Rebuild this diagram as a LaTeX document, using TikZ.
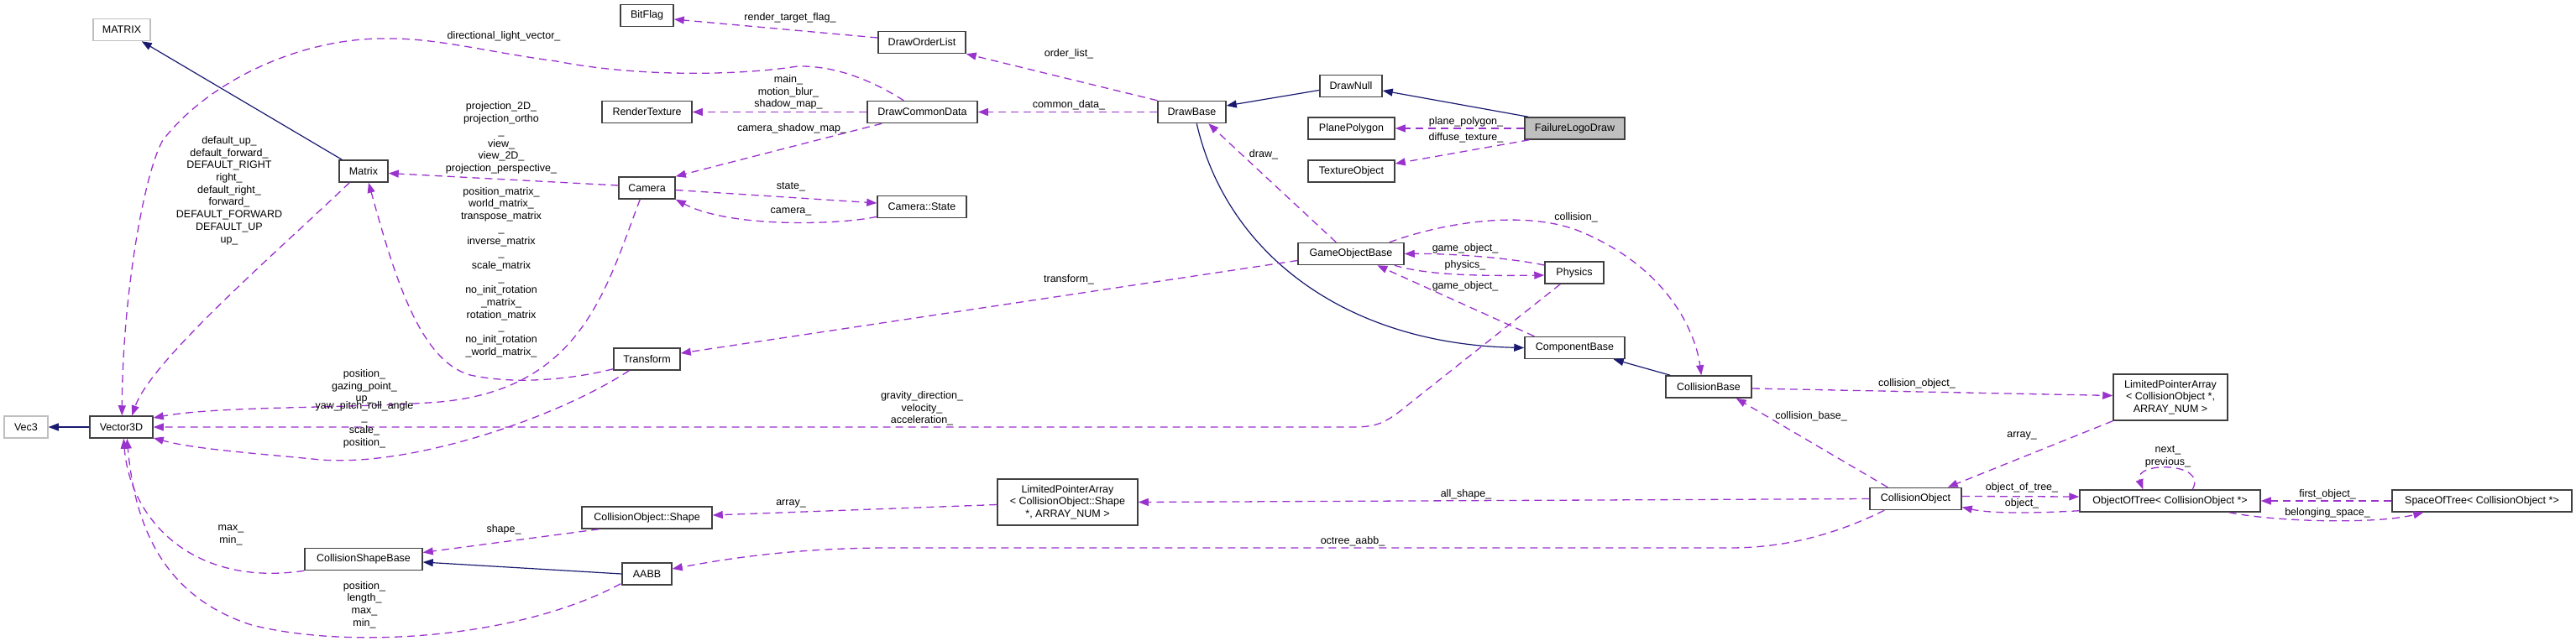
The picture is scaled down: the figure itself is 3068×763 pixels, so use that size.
\documentclass[tikz,border=0pt]{standalone}
\usepackage{fontspec}
\setmainfont{Liberation Sans}
\usepackage{tikz}
\usetikzlibrary{arrows.meta,calc}
\definecolor{Ink}{HTML}{404040}
\definecolor{Grey}{HTML}{BFBFBF}
\definecolor{Orchid}{HTML}{9A32CD}
\definecolor{Navy}{HTML}{191970}
\newcommand{\lblfont}{\fontsize{12.5}{14.7}\selectfont}
\tikzset{
  klass/.style={draw=Ink,line width=1.5pt,fill=white,minimum height=26pt,inner sep=2pt,font=\lblfont},
  klassext/.style={klass,draw=Grey},
  klassmain/.style={klass,fill=Grey},
  usage/.style={draw=Orchid,line width=1.3pt,dash pattern=on 9pt off 6pt,-{Triangle[length=12pt,width=9pt]}},
  inherit/.style={draw=Navy,line width=1.2pt,-{Triangle[length=12pt,width=9pt]}},
  note/.style={font=\lblfont,align=center,inner sep=0pt}
}

\begin{document}
\begin{tikzpicture}[x=1pt,y=-1pt]
  \useasboundingbox (0,0) rectangle (3068,763);
  % classes
  \node[klassext,minimum width=68pt] (MATRIX) at (145,35.5) {MATRIX};
  \node[klass,minimum width=63pt] (BitFlag) at (770.5,18.5) {BitFlag};
  \node[klass,minimum width=104pt] (DrawOrderList) at (1098,50.5) {DrawOrderList};
  \node[klass,minimum width=107pt] (RenderTexture) at (770.5,133.5) {RenderTexture};
  \node[klass,minimum width=131pt] (DrawCommonData) at (1098.5,133.5) {DrawCommonData};
  \node[klass,minimum width=81pt] (DrawBase) at (1419.5,133.5) {DrawBase};
  \node[klass,minimum width=74pt] (DrawNull) at (1609,102.5) {DrawNull};
  \node[klass,minimum width=103pt] (PlanePolygon) at (1609.5,153) {PlanePolygon};
  \node[klassmain,minimum width=119pt] (FailureLogoDraw) at (1875.5,153) {FailureLogoDraw};
  \node[klass,minimum width=103pt] (TextureObject) at (1609.5,204) {TextureObject};
  \node[klass,minimum width=58pt] (Matrix) at (433,204) {Matrix};
  \node[klass,minimum width=67pt] (Camera) at (770.5,224) {Camera};
  \node[klass,minimum width=106pt] (CameraState) at (1098,246.5) {Camera::State};
  \node[klass,minimum width=126pt] (GameObjectBase) at (1609,302.5) {GameObjectBase};
  \node[klass,minimum width=70pt] (Physics) at (1875,325) {Physics};
  \node[klass,minimum width=79pt] (Transform) at (770.5,428) {Transform};
  \node[klass,minimum width=119pt] (ComponentBase) at (1875.5,414.5) {ComponentBase};
  \node[klass,minimum width=102pt] (CollisionBase) at (2035,461) {CollisionBase};
  \node[klassext,minimum width=52pt] (Vec3) at (31,509) {Vec3};
  \node[klass,minimum width=75pt] (Vector3D) at (144.5,509) {Vector3D};
  \node[klass,minimum width=136pt,minimum height=55pt,align=center] (LPACO) at (2585,473.5) {LimitedPointerArray\\< CollisionObject *,\\ARRAY\_NUM >};
  \node[klass,minimum width=167pt,minimum height=55pt,align=center] (LPAShape) at (1271.5,598.5) {LimitedPointerArray\\< CollisionObject::Shape\\*, ARRAY\_NUM >};
  \node[klass,minimum width=140pt] (CollisionShapeBase) at (433,666.5) {CollisionShapeBase};
  \node[klass,minimum width=155pt] (CollShape) at (770.5,617) {CollisionObject::Shape};
  \node[klass,minimum width=59pt] (AABB) at (770.5,684) {AABB};
  \node[klass,minimum width=109pt] (CollisionObject) at (2281.5,594.5) {CollisionObject};
  \node[klass,minimum width=215pt] (ObjectOfTree) at (2584.5,597) {ObjectOfTree< CollisionObject *>};
  \node[klass,minimum width=214pt] (SpaceOfTree) at (2956,597) {SpaceOfTree< CollisionObject *>};

  % inheritance
  \draw[inherit] (Vector3D.west) -- (Vec3.east);
  \draw[inherit] ($(Matrix.north west)+(4,0)$) -- ($(MATRIX.south east)+(-11,0)$);
  \draw[inherit] ($(DrawNull.west)+(0,5)$) -- ($(DrawBase.east)+(0,-7.5)$);
  \draw[inherit] ($(FailureLogoDraw.north west)+(5,0)$) -- ($(DrawNull.east)+(0,5.5)$);
  \draw[inherit] ($(DrawBase.south west)+(47,0)$) .. controls (1460,300) and (1600,410) .. (ComponentBase.west);
  \draw[inherit] ($(CollisionBase.north west)+(6,0)$) -- ($(ComponentBase.south east)+(-14,0)$);
  \draw[inherit] (AABB.west) -- ($(CollisionShapeBase.east)+(0,3.5)$);

  % members
  \draw[usage] ($(DrawOrderList.west)+(0,-5.5)$) -- ($(BitFlag.east)+(0,4.5)$);
  \draw[usage] (DrawBase.north west) -- (DrawOrderList.south east);
  \draw[usage] (DrawBase.west) -- (DrawCommonData.east);
  \draw[usage] (DrawCommonData.west) -- (RenderTexture.east);
  \draw[usage] ($(DrawCommonData.south west)+(18,0)$) -- (Camera.north east);
  \draw[usage] ($(DrawCommonData.north west)+(44,0)$) .. controls (1045,100) and (1000,78) .. (950,79)
    .. controls (880,90) and (760,92) .. (663,73) .. controls (580,62) and (520,45) .. (459,46)
    .. controls (360,45) and (250,95) .. (194,167) .. controls (172,205) and (146,350) .. ($(Vector3D.north west)+(39,0)$);
  \draw[usage] ($(Camera.west)+(0,-3)$) -- ($(Matrix.east)+(0,2.5)$);
  \draw[usage] ($(Camera.east)+(0,2.5)$) -- ($(CameraState.west)+(0,-4.5)$);
  \draw[usage] ($(CameraState.south west)+(0,-2)$) .. controls (1000,268) and (870,272) .. (Camera.south east);
  \draw[usage] ($(Camera.south west)+(26,0)$) .. controls (720,350) and (690,470) .. (510,480)
    .. controls (400,487) and (260,484) .. ($(Vector3D.east)+(0,-11)$);
  \draw[usage] ($(Transform.south west)+(0,-2)$) .. controls (690,450) and (620,460) .. (560,447)
    .. controls (500,430) and (470,330) .. ($(Matrix.south)+(6,0)$);
  \draw[usage] ($(Transform.south west)+(19,0)$) .. controls (660,500) and (480,560) .. (372,547)
    .. controls (300,540) and (230,535) .. ($(Vector3D.east)+(0,13)$);
  \draw[usage] ($(Physics.south west)+(19,0)$) -- (1680,480) .. controls (1650,505) and (1640,509) .. (1610,509) -- (Vector3D.east);
  \draw[usage] ($(GameObjectBase.west)+(0,8)$) -- ($(Transform.east)+(0,-7)$);
  \draw[usage] ($(GameObjectBase.north west)+(46,0)$) -- ($(DrawBase.south west)+(61,0)$);
  \draw[usage] (FailureLogoDraw.west) -- (PlanePolygon.east);
  \draw[usage] ($(FailureLogoDraw.south west)+(6,0)$) -- ($(TextureObject.east)+(0,-9)$);
  \draw[usage] ($(Physics.west)+(0,-9)$) .. controls (1790,306) and (1720,302) .. (GameObjectBase.east);
  \draw[usage] ($(GameObjectBase.south east)+(-12,0)$) .. controls (1700,328) and (1760,329) .. ($(Physics.west)+(0,3)$);
  \draw[usage] ($(ComponentBase.north west)+(12,0)$) -- ($(GameObjectBase.south west)+(95,0)$);
  \draw[usage] ($(GameObjectBase.north east)+(-18,0)$) .. controls (1720,265) and (1815,250) .. (1880,275)
    .. controls (1990,320) and (2020,400) .. ($(CollisionBase.north west)+(43,0)$);
  \draw[usage] ($(CollisionBase.east)+(0,2)$) -- ($(LPACO.west)+(0,-2)$);
  \draw[usage] (LPACO.south west) -- ($(CollisionObject.north east)+(-17,0)$);
  \draw[usage] ($(CollisionObject.north west)+(22,0)$) -- ($(CollisionBase.south east)+(-19,0)$);
  \draw[usage] (CollisionObject.west) -- (LPAShape.east);
  \draw[usage] ($(LPAShape.west)+(0,3)$) -- ($(CollShape.east)+(0,-3)$);
  \draw[usage] ($(CollShape.south west)+(21,0)$) -- ($(CollisionShapeBase.east)+(0,-8)$);
  \draw[usage] ($(CollisionObject.south west)+(18,0)$) .. controls (2180,640) and (2120,653) .. (2060,653) -- (1060,653)
    .. controls (950,653) and (870,665) .. ($(AABB.east)+(0,-6)$);
  \draw[usage] ($(CollisionObject.east)+(0,-3)$) -- ($(ObjectOfTree.west)+(0,-5)$);
  \draw[usage] ($(ObjectOfTree.south west)+(0,-2)$) .. controls (2420,612) and (2370,612) .. ($(CollisionObject.east)+(0,10)$);
  \draw[usage] ($(ObjectOfTree.north west)+(135,0)$) .. controls (2630,550) and (2540,550) .. ($(ObjectOfTree.north west)+(76,0)$);
  \draw[usage] (SpaceOfTree.west) -- (ObjectOfTree.east);
  \draw[usage] ($(ObjectOfTree.south east)+(-38,0)$) .. controls (2710,622) and (2830,625) .. ($(SpaceOfTree.south west)+(38,0)$);
  \draw[usage] ($(Matrix.south west)+(13,0)$) .. controls (330,300) and (180,430) .. ($(Vector3D.north west)+(51,0)$);
  \draw[usage] (CollisionShapeBase.south west) .. controls (230,700) and (155,620) .. ($(Vector3D.south west)+(41,0)$);
  \draw[usage] ($(AABB.south west)+(-1,-2)$) .. controls (620,760) and (420,775) .. (300,745)
    .. controls (190,710) and (160,620) .. ($(Vector3D.south west)+(45,0)$);

  % member names
  \node[note] (lRenderTargetFlag) at (941,21) {render\_target\_flag\_};
  \node[note] (lOrderList) at (1273,64) {order\_list\_};
  \node[note] (lCommonData) at (1273,125) {common\_data\_};
  \node[note] (lMain) at (939,110) {main\_\\motion\_blur\_\\shadow\_map\_};
  \node[note] (lCameraShadowMap) at (943,153) {camera\_shadow\_map\_};
  \node[note] (lDirLight) at (600,43) {directional\_light\_vector\_};
  \node[note] (lProjection) at (597,164.5) {projection\_2D\_\\projection\_ortho\\\_\\view\_\\view\_2D\_\\projection\_perspective\_};
  \node[note] (lDefaults) at (273,227) {default\_up\_\\default\_forward\_\\DEFAULT\_RIGHT\\right\_\\default\_right\_\\forward\_\\DEFAULT\_FORWARD\\DEFAULT\_UP\\up\_};
  \node[note] (lMatrices) at (597,324.5) {position\_matrix\_\\world\_matrix\_\\transpose\_matrix\\\_\\inverse\_matrix\\\_\\scale\_matrix\\\_\\no\_init\_rotation\\\_matrix\_\\rotation\_matrix\\\_\\no\_init\_rotation\\\_world\_matrix\_};
  \node[note] (lState) at (942,223) {state\_};
  \node[note] (lCamera) at (942,252) {camera\_};
  \node[note] (lCamVec) at (434,461) {position\_\\gazing\_point\_\\up\_};
  \node[note] (lTransVec) at (434,506) {yaw\_pitch\_roll\_angle\\\_\\scale\_\\position\_};
  \node[note] (lGravity) at (1098,487) {gravity\_direction\_\\velocity\_\\acceleration\_};
  \node[note] (lTransform) at (1273,333) {transform\_};
  \node[note] (lDraw) at (1505,184) {draw\_};
  \node[note] (lPlanePolygon) at (1746,145) {plane\_polygon\_};
  \node[note] (lDiffuse) at (1746,164) {diffuse\_texture\_};
  \node[note] (lCollision) at (1877,259) {collision\_};
  \node[note] (lGameObjectA) at (1745,296) {game\_object\_};
  \node[note] (lPhysics) at (1745,316) {physics\_};
  \node[note] (lGameObjectB) at (1745,341) {game\_object\_};
  \node[note] (lCollisionObject) at (2283,457) {collision\_object\_};
  \node[note] (lArrayCO) at (2408,519) {array\_};
  \node[note] (lCollisionBase) at (2157,496) {collision\_base\_};
  \node[note] (lAllShape) at (1746,589) {all\_shape\_};
  \node[note] (lOctree) at (1611,645) {octree\_aabb\_};
  \node[note] (lArrayShape) at (942,600) {array\_};
  \node[note] (lShape) at (600,631) {shape\_};
  \node[note] (lMaxMin) at (275,638) {max\_\\min\_};
  \node[note] (lAABBVec) at (434,721) {position\_\\length\_\\max\_\\min\_};
  \node[note] (lNext) at (2582,544.5) {next\_\\previous\_};
  \node[note] (lObjectOfTree) at (2408,581) {object\_of\_tree\_};
  \node[note] (lObject) at (2408,600) {object\_};
  \node[note] (lFirstObject) at (2772,589) {first\_object\_};
  \node[note] (lBelonging) at (2772,611) {belonging\_space\_};
\end{tikzpicture}
\end{document}
